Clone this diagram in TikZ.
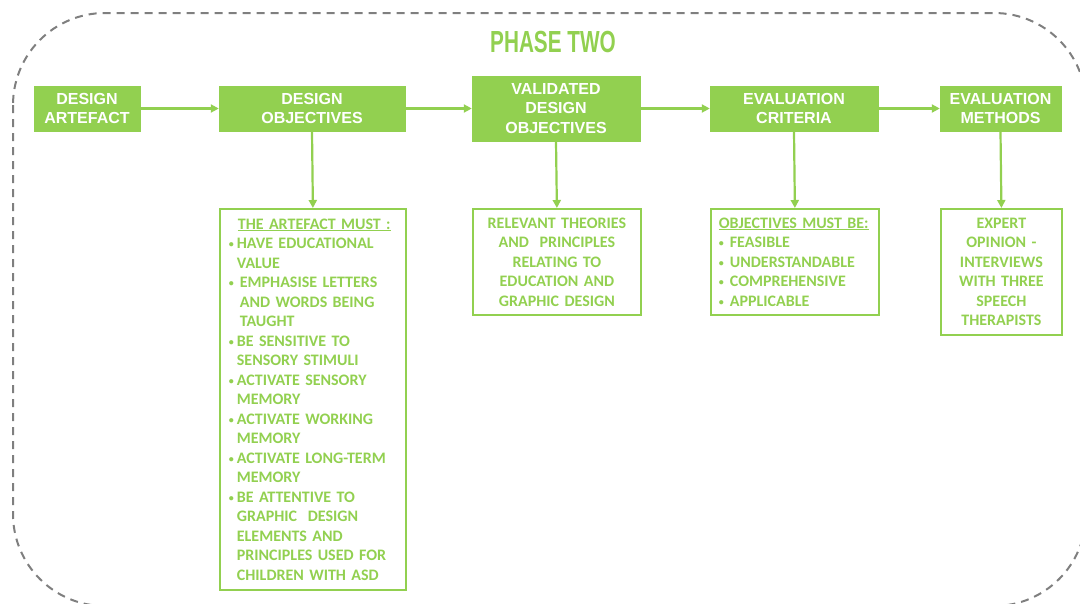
\documentclass[tikz,border=0pt]{standalone}
\usepackage{fontspec}
\usepackage{graphicx}
\setmainfont{Liberation Sans}
\newfontfamily\carl{Carlito}
\usetikzlibrary{arrows.meta}
\definecolor{gr}{HTML}{92D050}
\definecolor{dgray}{HTML}{7F7F7F}
\newcommand\smallbul{\raisebox{0.8pt}{\fontsize{10}{10}\selectfont\textbullet}}
\newcommand\bul{\makebox[8pt][l]{\smallbul}}
\newcommand\ind{\hspace*{8pt}}
\newcommand\bulb{\makebox[11pt][l]{\smallbul}}
\begin{document}
\begin{tikzpicture}[x=1pt,y=-1pt,
 topbox/.style={fill=gr, draw=gr, text=white, font=\bfseries\fontsize{16}{19.5}\selectfont, align=center, inner sep=0pt},
 lowbox/.style={draw=gr, line width=1.8pt, text=gr, font=\carl\bfseries\fontsize{16}{19.5}\selectfont, inner ysep=0pt, anchor=north west},
 conn/.style={draw=gr, line width=2.2pt, -{Triangle[length=8pt,width=8pt]}},
 titlestyle/.style={text=gr, font=\bfseries\fontsize{30.5}{30}\selectfont, inner sep=0pt},
 frame/.style={draw=dgray, line width=2pt, dash pattern=on 8pt off 6pt, rounded corners=92pt}
]
\useasboundingbox (0,0) rectangle (1080,603);
\draw[frame] (13,13) rectangle (1086,606);
\node[titlestyle] (title) at (553,42) {\scalebox{0.68}[1]{PHASE TWO}};

\node[topbox, minimum width=106pt, minimum height=45pt] (da) at (87,108.5) {DESIGN\\ARTEFACT};
\node[topbox, minimum width=186pt, minimum height=45pt] (do) at (312,108.5) {DESIGN\\OBJECTIVES};
\node[topbox, minimum width=168pt, minimum height=65pt] (vdo) at (556,108.5) {VALIDATED\\DESIGN\\OBJECTIVES};
\node[topbox, minimum width=168pt, minimum height=45pt] (ec) at (794,108.5) {EVALUATION\\CRITERIA};
\node[topbox, minimum width=121pt, minimum height=45pt] (em) at (1000.5,108.5) {EVALUATION\\METHODS};

\node[lowbox, align=left, text width=168pt, inner xsep=9pt, minimum height=381pt] (l1) at (219,208) {%
\hspace*{9pt}\underline{THE ARTEFACT MUST :}\\
\bul HAVE EDUCATIONAL\\
\ind VALUE\\
\bul\hspace*{3pt}EMPHASISE LETTERS\\
\ind\hspace*{3pt}AND WORDS BEING\\
\ind\hspace*{3pt}TAUGHT\\
\bul BE SENSITIVE TO\\
\ind SENSORY STIMULI\\
\bul ACTIVATE SENSORY\\
\ind MEMORY\\
\bul ACTIVATE WORKING\\
\ind MEMORY\\
\bul ACTIVATE LONG-TERM\\
\ind MEMORY\\
\bul BE ATTENTIVE TO\\
\ind GRAPHIC\ \ DESIGN\\
\ind ELEMENTS AND\\
\ind PRINCIPLES USED FOR\\
\ind CHILDREN WITH ASD};

\node[lowbox, align=center, text width=168pt, inner xsep=0pt, minimum height=106pt] (l2) at (472,208) {%
RELEVANT THEORIES\\AND\ \ PRINCIPLES\\RELATING TO\\EDUCATION AND\\GRAPHIC DESIGN};

\node[lowbox, align=left, text width=152pt, inner xsep=8pt, minimum height=106pt] (l3) at (710,208) {%
\underline{OBJECTIVES MUST BE:}\\
\bulb FEASIBLE\\
\bulb UNDERSTANDABLE\\
\bulb COMPREHENSIVE\\
\bulb APPLICABLE};

\node[lowbox, align=center, text width=121pt, inner xsep=0pt, minimum height=126pt] (l4) at (940,208) {%
EXPERT\\OPINION -\\INTERVIEWS\\WITH THREE\\SPEECH\\THERAPISTS};

\draw[conn] (da) -- (do);
\draw[conn] (do) -- (vdo);
\draw[conn] (vdo) -- (ec);
\draw[conn] (ec) -- (em);
\draw[conn] (do.south) -- (l1.north);
\draw[conn] (vdo.south) -- (l2.north);
\draw[conn] (ec.south) -- (l3.north);
\draw[conn] (em.south) -- (l4.north);
\end{tikzpicture}
\end{document}
